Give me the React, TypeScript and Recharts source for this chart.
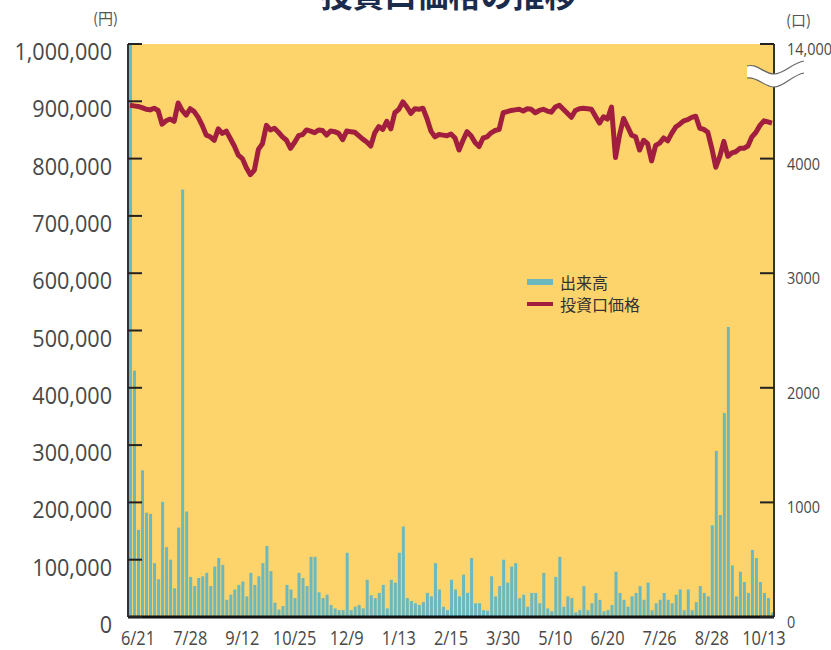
import { Bar, CartesianGrid, ComposedChart, Line, XAxis, YAxis } from 'recharts';

// one point every two trading days, index 0 = 6/21, a label every 13 points
const dateLabels = ['6/21', '7/28', '9/12', '10/25', '12/9', '1/13', '2/15', '3/30', '5/10', '6/20', '7/26', '8/28', '10/13'];
const FIRST_INDEX = -2;
const LABEL_STEP = 13;

// 出来高 (口)
const volume = [
  14000, 2150, 760, 1280, 910, 900, 470, 330, 1005, 610,
  500, 250, 780, 3730, 920, 350, 270, 340, 355, 385,
  270, 440, 515, 455, 150, 195, 240, 280, 310, 180,
  385, 280, 355, 470, 620, 400, 125, 65, 95, 280,
  240, 165, 385, 340, 270, 525, 525, 215, 165, 195,
  105, 75, 60, 60, 560, 60, 90, 105, 75, 325,
  190, 165, 210, 280, 75, 325, 300, 560, 790, 165,
  140, 120, 105, 130, 210, 180, 470, 240, 90, 60,
  325, 240, 180, 370, 210, 515, 120, 120, 60, 55,
  355, 180, 270, 500, 300, 440, 470, 165, 195, 90,
  210, 210, 120, 385, 75, 50, 350, 525, 90, 180,
  165, 40, 60, 270, 60, 120, 210, 150, 50, 60,
  105, 395, 210, 150, 90, 180, 210, 270, 150, 300,
  60, 120, 150, 210, 150, 120, 195, 240, 60, 240,
  60, 130, 270, 210, 180, 800, 1450, 890, 1780, 2530,
  450, 180, 395, 305, 210, 585, 515, 305, 210, 165,
  40,
];

// 投資口価格 (円)
const price = [
  893000, 892000, 891000, 889000, 886000, 885000, 888000, 884000, 860000, 866000,
  869000, 865000, 897000, 884000, 876000, 887000, 882000, 872000, 858000, 841000,
  838000, 832000, 852000, 844000, 848000, 835000, 822000, 806000, 800000, 784000,
  772000, 780000, 816000, 826000, 858000, 850000, 853000, 846000, 838000, 832000,
  818000, 828000, 840000, 842000, 850000, 848000, 845000, 850000, 849000, 841000,
  848000, 847000, 844000, 833000, 848000, 847000, 846000, 840000, 834000, 829000,
  822000, 845000, 856000, 851000, 865000, 852000, 880000, 886000, 899000, 890000,
  879000, 887000, 886000, 888000, 870000, 848000, 838000, 842000, 841000, 840000,
  843000, 836000, 815000, 832000, 847000, 840000, 828000, 821000, 836000, 838000,
  845000, 849000, 851000, 880000, 882000, 884000, 885000, 886000, 883000, 887000,
  886000, 880000, 884000, 886000, 883000, 881000, 890000, 893000, 886000, 879000,
  872000, 884000, 887000, 888000, 887000, 886000, 874000, 862000, 873000, 869000,
  890000, 802000, 841000, 870000, 856000, 841000, 838000, 815000, 832000, 826000,
  796000, 823000, 827000, 836000, 831000, 844000, 855000, 860000, 866000, 868000,
  872000, 874000, 853000, 851000, 846000, 818000, 785000, 804000, 830000, 804000,
  810000, 812000, 818000, 818000, 822000, 838000, 846000, 858000, 866000, 864000,
  862000,
];

const priceTicks = [0, 100000, 200000, 300000, 400000, 500000, 600000, 700000, 800000, 900000, 1000000];
// the volume axis is broken above 4000; its top tick reads 14,000
const volumeTicks = [0, 1000, 2000, 3000, 4000, 5000];
const volumeTopLabel = '14,000';

const rows = volume.map((v, k) => ({ idx: k + FIRST_INDEX, volume: v, price: price[k] }));
const xTicks = dateLabels.map((_, k) => k * LABEL_STEP);

const YELLOW = '#FDD46B';
const TEAL = '#6BB8BF';
const CRIMSON = '#A11E3F';
const LABEL = '#484848';
const sans = '"Open Sans", "Noto Sans", sans-serif';
const cjk = '"Noto Sans CJK JP", "Noto Sans", sans-serif';

// the original uses a condensed face, so squeeze Open Sans horizontally
function Squeezed({ x, y, text, anchor, size, squeeze }: {
  x: number; y: number; text: string; anchor: 'start' | 'middle' | 'end'; size: number; squeeze: number;
}) {
  return (
    <text
      transform={`translate(${x},${y}) scale(${squeeze},1)`}
      textAnchor={anchor}
      fontSize={size}
      fontFamily={sans}
      fill={LABEL}
    >
      {text}
    </text>
  );
}

export default function App() {
  return (
    <div style={{ position: 'absolute', left: 0, top: 0, width: 831, height: 650, background: '#fff', overflow: 'hidden' }}>
      <div
        style={{
          position: 'absolute', left: 0, top: -27, width: 831, boxSizing: 'border-box', paddingLeft: 66,
          textAlign: 'center', fontFamily: cjk, fontWeight: 700, fontSize: 32, color: '#1B2B4B', lineHeight: '40px',
        }}
      >
        投資口価格の推移
      </div>
      <div style={{ position: 'absolute', left: 93, top: 7, fontFamily: cjk, fontSize: 15, color: '#555' }}>(円)</div>
      <div style={{ position: 'absolute', left: 786, top: 9, fontFamily: cjk, fontSize: 15, color: '#555' }}>(口)</div>

      <ComposedChart width={831} height={650} data={rows} margin={{ top: 44, right: 0, bottom: 0, left: 0 }}>
        <CartesianGrid fill={YELLOW} horizontal={false} vertical={false} />
        <XAxis
          dataKey="idx"
          type="number"
          domain={[-2.5, 158.5]}
          ticks={xTicks}
          interval={0}
          height={33}
          tickLine={false}
          tickSize={0}
          tickMargin={0}
          axisLine={{ stroke: '#111', strokeWidth: 3 }}
          tick={(p: any) => (
            <Squeezed
              x={p.x}
              y={p.y + 28}
              text={dateLabels[Math.round(p.payload.value / LABEL_STEP)] ?? ''}
              anchor="middle"
              size={20}
              squeeze={0.82}
            />
          )}
        />
        <YAxis
          yAxisId="left"
          domain={[0, 1000000]}
          ticks={priceTicks}
          interval={0}
          width={128}
          tickSize={-14}
          tickMargin={30}
          axisLine={{ stroke: '#333', strokeWidth: 2 }}
          tickLine={{ stroke: '#222', strokeWidth: 2 }}
          tick={(p: any) => (
            <Squeezed
              x={p.x}
              y={p.y + 16}
              text={Number(p.payload.value).toLocaleString('en-US')}
              anchor="end"
              size={24}
              squeeze={0.9}
            />
          )}
        />
        <YAxis
          yAxisId="right"
          orientation="right"
          domain={[0, 5000]}
          allowDataOverflow
          ticks={volumeTicks}
          interval={0}
          width={57}
          tickSize={-14}
          tickMargin={27}
          axisLine={{ stroke: '#333', strokeWidth: 2 }}
          tickLine={{ stroke: '#222', strokeWidth: 2 }}
          tick={(p: any) => (
            <Squeezed
              x={p.x}
              y={p.y + 11}
              text={p.payload.value === 5000 ? volumeTopLabel : String(p.payload.value)}
              anchor="start"
              size={17}
              squeeze={0.85}
            />
          )}
        />
        <Bar yAxisId="right" dataKey="volume" fill={TEAL} barSize={3} isAnimationActive={false} />
        <Line
          yAxisId="left"
          dataKey="price"
          type="linear"
          stroke={CRIMSON}
          strokeWidth={5}
          strokeLinejoin="round"
          dot={false}
          activeDot={false}
          isAnimationActive={false}
        />
      </ComposedChart>

      {/* legend */}
      <div style={{ position: 'absolute', left: 527, top: 271, fontFamily: cjk, fontSize: 16, color: '#333' }}>
        <div style={{ display: 'flex', alignItems: 'center', height: 22 }}>
          <span style={{ display: 'inline-block', width: 26, height: 6, background: TEAL, marginRight: 7 }} />
          出来高
        </div>
        <div style={{ display: 'flex', alignItems: 'center', height: 22 }}>
          <span style={{ display: 'inline-block', width: 26, height: 4, background: CRIMSON, marginRight: 7 }} />
          投資口価格
        </div>
      </div>

      {/* axis break on the volume axis */}
      <svg width={831} height={650} style={{ position: 'absolute', left: 0, top: 0, pointerEvents: 'none' }}>
        <path
          d="M747,66 C757,63 764,74 774,74 C784,74 792,63 804,61 L804,73 C792,75 784,87 774,87 C764,87 757,76 747,78 Z"
          fill="#fff"
        />
        <path d="M747,66 C757,63 764,74 774,74 C784,74 792,63 804,61" fill="none" stroke="#666" strokeWidth={1.2} />
        <path d="M747,78 C757,76 764,87 774,87 C784,87 792,75 804,73" fill="none" stroke="#666" strokeWidth={1.2} />
      </svg>
    </div>
  );
}
